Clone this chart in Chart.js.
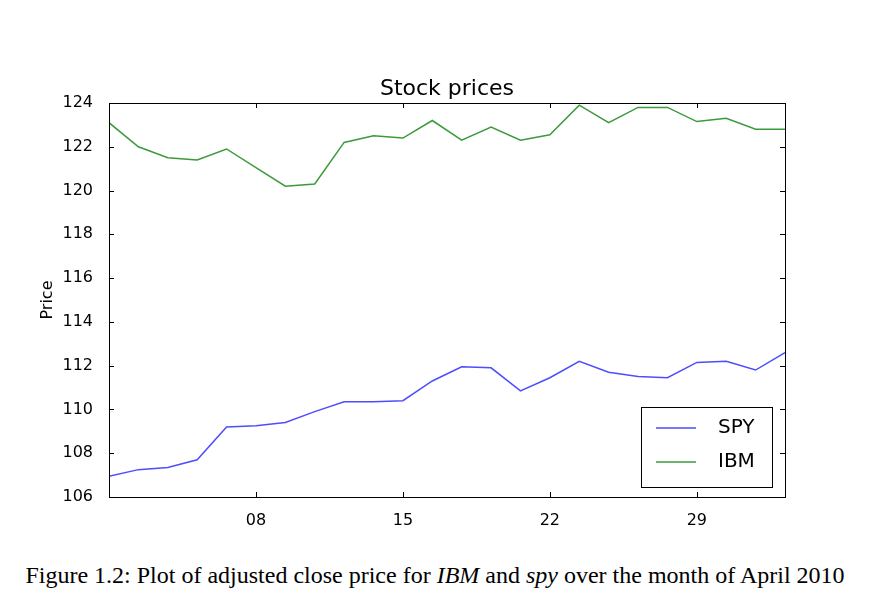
<!DOCTYPE html>
<html><head><meta charset="utf-8">
<script src="https://cdn.jsdelivr.net/npm/chart.js@4"></script>
<style>
body{margin:0;background:#fff;width:870px;height:612px;position:relative;overflow:hidden}
#c{position:absolute;left:0;top:0}
#cap{position:absolute;left:0;width:870px;top:562px;text-align:center;font-family:"Liberation Serif","DejaVu Serif",serif;font-size:24px;color:#000;white-space:nowrap}
</style></head><body>
<canvas id="c" width="870" height="540"></canvas>
<div id="cap">Figure 1.2: Plot of adjusted close price for <i>IBM</i> and <i>spy</i> over the month of April 2010</div>
<script>
const dayIndex=[0,1,2,3,4,5,6,7,8,9,10,11,12,13,14,15,16,17,18,19,20,21,22,23];
const spy=[106.95,107.25,107.35,107.7,109.2,109.25,109.4,109.9,110.35,110.35,110.4,111.3,111.95,111.9,110.85,111.45,112.2,111.7,111.5,111.45,112.15,112.2,111.8,112.6];
const ibm=[123.1,122.0,121.5,121.4,121.9,121.05,120.2,120.3,122.2,122.5,122.4,123.2,122.3,122.9,122.3,122.55,123.9,123.1,123.8,123.8,123.15,123.3,122.8,122.8];
const xTickPos=[5,10,15,20];
const xTickLabels=['08','15','22','29'];
const yTicks=[106,108,110,112,114,116,118,120,122,124];
const FONT='"DejaVu Sans", sans-serif';
const deco={id:'deco',afterDraw(ch){
 const c=ch.ctx,a=ch.chartArea,xs=ch.scales.x,ys=ch.scales.y;
 c.save();c.strokeStyle='#000';c.lineWidth=1;
 c.beginPath();
 xTickPos.forEach(v=>{const x=Math.round(xs.getPixelForValue(v))+0.5;c.moveTo(x,a.bottom);c.lineTo(x,a.bottom-5);c.moveTo(x,a.top);c.lineTo(x,a.top+5);});
 yTicks.forEach(v=>{const y=Math.round(ys.getPixelForValue(v))+0.5;c.moveTo(a.left,y);c.lineTo(a.left+5,y);c.moveTo(a.right,y);c.lineTo(a.right-5,y);});
 c.stroke();
 c.strokeRect(a.left+0.5,a.top+0.5,a.right-a.left,a.bottom-a.top);
 c.fillStyle='#000';c.font='22px '+FONT;c.textAlign='center';c.textBaseline='alphabetic';
 c.fillText('Stock prices',(a.left+a.right)/2,95);
 c.save();c.translate(52,300);c.rotate(-Math.PI/2);c.font='16px '+FONT;c.fillText('Price',0,0);c.restore();
 c.fillStyle='#fff';c.fillRect(641,407,131,80);c.strokeRect(641.5,407.5,131,80);
 c.lineWidth=1.5;
 c.strokeStyle='#4d4dff';c.beginPath();c.moveTo(656,428);c.lineTo(696,428);c.stroke();
 c.strokeStyle='#3c9a3c';c.beginPath();c.moveTo(656,462);c.lineTo(696,462);c.stroke();
 c.fillStyle='#000';c.font='20px '+FONT;c.textAlign='left';c.textBaseline='middle';
 c.fillText('SPY',718,428);c.fillText('IBM',718,462);
 c.restore();
}};
new Chart(document.getElementById('c'),{
 type:'line',
 data:{datasets:[
  {label:'SPY',data:dayIndex.map((x,i)=>({x,y:spy[i]})),borderColor:'#4d4dff',borderWidth:1.5,pointRadius:0,tension:0},
  {label:'IBM',data:dayIndex.map((x,i)=>({x,y:ibm[i]})),borderColor:'#3c9a3c',borderWidth:1.5,pointRadius:0,tension:0}]},
 options:{responsive:false,animation:false,
  layout:{padding:{top:103,right:85,left:0,bottom:0}},
  plugins:{legend:{display:false},tooltip:{enabled:false}},
  scales:{
   x:{type:'linear',min:0,max:23,afterFit(s){s.height=43;},
      afterBuildTicks(s){s.ticks=xTickPos.map(v=>({value:v}));},
      ticks:{autoSkip:false,maxRotation:0,padding:6,color:'#000',font:{family:FONT,size:16},callback:(v)=>xTickLabels[xTickPos.indexOf(v)]},
      grid:{display:false},border:{display:false}},
   y:{min:106,max:124,afterFit(s){s.width=109;},
      afterBuildTicks(s){s.ticks=yTicks.map(v=>({value:v}));},
      ticks:{padding:8,color:'#000',font:{family:FONT,size:16}},
      grid:{display:false},border:{display:false}}
  }},
 plugins:[deco]
});
</script></body></html>
